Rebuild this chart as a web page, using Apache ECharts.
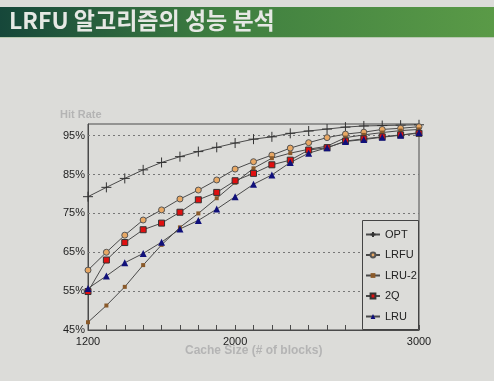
<!DOCTYPE html>
<html><head><meta charset="utf-8">
<script src="https://cdn.jsdelivr.net/npm/echarts@6/dist/echarts.min.js"></script>
<style>html,body{margin:0;padding:0;background:#dcdcd9;}#c{width:494px;height:381px;}</style>
</head><body><div id="c"></div>
<script>
const titleText = 'LRFU 알고리즘의 성능 분석';
const yAxisName = 'Hit Rate';
const xAxisName = 'Cache Size (# of blocks)';
const cacheSizes = [1200,1300,1400,1500,1600,1700,1800,1900,2000,2100,2200,2300,2400,2500,2600,2700,2800,2900,3000];
const xTickLabels = [1200, 2000, 3000];
const yTickLabels = [45, 55, 65, 75, 85, 95];
const gridValues = [55, 65, 75, 85, 95];
const seriesNames = ['OPT','LRFU','LRU-2','2Q','LRU'];
const opt  = [79.3,81.7,84.0,86.2,88.1,89.6,90.9,92.0,93.1,94.1,94.7,95.6,96.2,96.7,97.2,97.5,97.6,97.7,97.8];
const lrfu = [60.4,65.0,69.4,73.3,75.9,78.7,81.0,83.6,86.4,88.3,90.0,91.8,93.2,94.5,95.4,95.9,96.6,96.9,97.3];
const lru2 = [47.0,51.3,56.1,61.7,66.9,71.4,75.0,78.9,82.9,86.6,89.2,90.5,91.5,92.3,94.5,95.2,95.8,96.3,96.6];
const q2   = [54.9,63.0,67.5,70.8,72.5,75.3,78.5,80.4,83.4,85.3,87.5,88.7,91.3,91.9,93.6,94.2,94.7,95.2,95.6];
const lru  = [55.7,58.9,62.3,64.7,67.6,71.0,73.2,76.1,79.3,82.5,84.9,88.1,90.5,91.9,93.5,94.0,94.6,95.1,95.8];

const pair = arr => cacheSizes.map((x,i)=>[x,arr[i]]);
const lineCol = '#4a4a4a';
const base = {type:'line', smooth:false, lineStyle:{color:lineCol,width:1}, z:3};
const chart = echarts.init(document.getElementById('c'));
chart.setOption({
  animation:false,
  backgroundColor:'#dcdcd9',
  graphic:[
    {type:'rect', shape:{x:0,y:7,width:494,height:30}, style:{fill:new echarts.graphic.LinearGradient(0,0,1,0,[{offset:0,color:'#16473a'},{offset:0.45,color:'#3f7f40'},{offset:1,color:'#5a9a47'}])}, z:-1},
    {type:'rect', shape:{x:0,y:37,width:494,height:1}, style:{fill:'#b8c8b0'}},
    {type:'text', left:9, top:9, style:{text:titleText, fill:'#e6e8e4', font:'bold 23px "Noto Sans CJK KR", sans-serif'}},
    {type:'text', left:60, top:109, style:{text:yAxisName, fill:'#b4b4b4', font:'bold 11px "Liberation Sans", Arial, sans-serif'}},
    {type:'text', left:185, top:345, style:{text:xAxisName, fill:'#b4b4b4', font:'bold 12px "Liberation Sans", Arial, sans-serif'}},
    {type:'rect', z:10, shape:{x:362.5,y:220.5,width:56,height:109}, style:{fill:'#dcdcd9', stroke:'#444', lineWidth:1}}
  ],
  grid:{left:88, right:75, top:124, bottom:51, show:true, borderColor:'#4a4a4a', borderWidth:1, backgroundColor:'transparent'},
  xAxis:{type:'value', min:1200, max:3000, interval:100,
    axisLine:{lineStyle:{color:'#4a4a4a',width:1}},
    axisTick:{inside:true, length:5, lineStyle:{color:'#4a4a4a'}},
    splitLine:{show:false},
    axisLabel:{color:'#222', fontSize:11, fontFamily:'"Liberation Sans", Arial, sans-serif', margin:6,
      formatter:v=> xTickLabels.includes(v) ? String(v) : ''}},
  yAxis:{type:'value', min:45, max:98, interval:5,
    axisLine:{show:true, lineStyle:{color:'#4a4a4a',width:1}},
    axisTick:{show:false},
    splitLine:{show:false},
    axisLabel:{color:'#222', fontSize:11, fontFamily:'"Liberation Sans", Arial, sans-serif', margin:3,
      formatter:v=> yTickLabels.includes(v) ? v+'%' : ''}},
  legend:{orient:'vertical', left:362, top:220, padding:[9,3,8,3], itemGap:9.5, itemWidth:14, itemHeight:6,
    z:20, backgroundColor:'transparent', borderWidth:0,
    textStyle:{color:'#222', fontSize:11, fontFamily:'"Liberation Sans", Arial, sans-serif'},
    data:seriesNames},
  series:[
    Object.assign({}, base, {name:seriesNames[0], data:pair(opt), symbol:'path://M0,5L10,5M5,0L5,10', symbolSize:10, showAllSymbol:true,
      itemStyle:{color:'transparent', borderColor:'#333', borderWidth:1}}),
    Object.assign({}, base, {name:seriesNames[1], data:pair(lrfu), symbol:'circle', symbolSize:6,
      itemStyle:{color:'#e8a864', borderColor:'#555', borderWidth:1}}),
    Object.assign({}, base, {name:seriesNames[2], data:pair(lru2), symbol:'rect', symbolSize:4,
      itemStyle:{color:'#8a5a2a', borderColor:'#8a5a2a', borderWidth:0}}),
    Object.assign({}, base, {name:seriesNames[3], data:pair(q2), symbol:'rect', symbolSize:6,
      itemStyle:{color:'#e01010', borderColor:'#333', borderWidth:1}}),
    Object.assign({}, base, {name:seriesNames[4], data:pair(lru), symbol:'triangle', symbolSize:7,
      itemStyle:{color:'#10107a', borderColor:'#10107a', borderWidth:0},
      markLine:{silent:true, symbol:'none', label:{show:false}, z:1,
        lineStyle:{color:'#777', type:[2,3], width:1},
        data:gridValues.map(v=>({yAxis:v}))}})
  ]
});
</script></body></html>
